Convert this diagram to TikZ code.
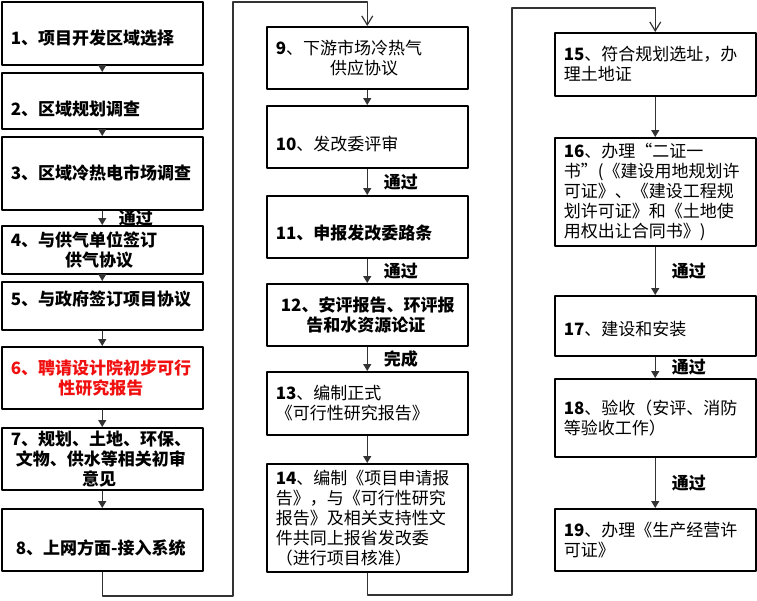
\documentclass[tikz,border=0pt]{standalone}
\usepackage{fontspec}
\usepackage{tikz}
\usetikzlibrary{arrows.meta,positioning,calc}
\newfontfamily\cjk{Noto Sans CJK SC}
\definecolor{linegray}{HTML}{333333}
\definecolor{redtext}{HTML}{F01010}
% move a one-line label up or down inside its box
\newcommand{\boxshift}[2]{\raisebox{#1}[\height][\depth]{#2}}

\begin{document}
\begin{tikzpicture}[x=1pt,y=-1pt,line join=round,
    box/.style={draw=black,line width=1.5pt,rectangle,anchor=north west,minimum width=201pt,
      inner xsep=9pt,inner ysep=1pt,text width=183pt,align=left,font=\cjk\fontsize{17}{20}\selectfont},
    boldbox/.style={box,font=\cjk\bfseries\fontsize{17}{20}\selectfont},
    arr/.style={draw=linegray,line width=1.3pt,-{Triangle[length=7pt,width=8pt]}},
    back/.style={draw=linegray,line width=1.3pt,-{Straight Barb[length=9pt,width=11pt,line width=1.2pt]}},
    pass/.style={midway,right=15pt,inner sep=1pt,font=\cjk\bfseries\fontsize{17}{20}\selectfont}]
  \useasboundingbox (0,0) rectangle (757,600);

  % first column
  \node[boldbox,minimum height=63pt] (b1) at (1,1) {\boxshift{-5pt}{1、项目开发区域选择}};
  \node[boldbox,minimum height=56pt] (b2) at (1,72) {\boxshift{-8pt}{2、区域规划调查}};
  \node[boldbox,minimum height=73pt] (b3) at (1,136) {3、区域冷热电市场调查};
  \node[boldbox,minimum height=48pt] (b4) at (1,225) {4、与供气单位签订\\\hspace*{3.2em}供气协议};
  \node[boldbox,minimum height=48pt] (b5) at (1,281) {\boxshift{7pt}{5、与政府签订项目协议}};
  \node[boldbox,minimum height=62pt,text=redtext] (b6) at (1,346) {6、聘请设计院初步可行\\\hspace*{2.8em}性研究报告};
  \node[boldbox,minimum height=62pt] (b7) at (1,427) {7、规划、土地、环保、\\\hspace*{0.3em}文物、供水等相关初审\\\hspace*{4.2em}意见};
  \node[boldbox,minimum height=62pt] (b8) at (1,508) {\boxshift{-8pt}{\hspace*{0.3em}8、上网方面-接入系统}};

  % second column
  \node[box,minimum height=62pt] (b9) at (266,26) {{\bfseries 9}、下游市场冷热气\\\hspace*{3.2em}供应协议};
  \node[box,minimum height=62pt] (b10) at (266,105) {\boxshift{-7pt}{{\bfseries 10}、发改委评审}};
  \node[boldbox,minimum height=62pt] (b11) at (266,195) {\boxshift{-6pt}{11、申报发改委路条}};
  \node[boldbox,minimum height=62pt] (b12) at (266,283) {\hspace*{0.3em}12、安评报告、环评报\\\hspace*{1.8em}告和水资源论证};
  \node[box,minimum height=63pt] (b13) at (266,371) {{\bfseries 13}、编制正式\\《可行性研究报告》};
  \node[box,minimum height=108pt] (b14) at (266,463) {{\bfseries 14}、编制《项目申请报\\告》，与《可行性研究\\报告》及相关支持性文\\件共同上报省发改委\\（进行项目核准）};

  % third column
  \node[box,minimum height=63pt] (b15) at (554,32) {{\bfseries 15}、符合规划选址，办\\理土地证};
  \node[box,minimum height=108pt] (b16) at (554,137) {{\bfseries 16}、办理“二证一\\书”(《建设用地规划许\\可证》、《建设工程规\\划许可证》和《土地使\\用权出让合同书》)};
  \node[box,minimum height=60pt] (b17) at (554,295) {\boxshift{-3pt}{{\bfseries 17}、建设和安装}};
  \node[box,minimum height=78pt] (b18) at (554,378) {{\bfseries 18}、验收（安评、消防\\等验收工作）};
  \node[box,minimum height=62pt] (b19) at (554,508) {{\bfseries 19}、办理《生产经营许\\可证》};

  % arrows
  \draw[arr] (b1) -- (b2);
  \draw[arr] (b2) -- (b3);
  \draw[arr] (b3) -- (b4) node[pass] (p1) {通过};
  \draw[arr] (b4) -- (b5);
  \draw[arr] (b5) -- (b6);
  \draw[arr] (b6) -- (b7);
  \draw[arr] (b7) -- (b8);

  \draw[arr] (b9) -- (b10);
  \draw[arr] (b10) -- (b11) node[pass] (p2) {通过};
  \draw[arr] (b11) -- (b12) node[pass] (p3) {通过};
  \draw[arr] (b12) -- (b13) node[pass] (p4) {完成};
  \draw[arr] (b13) -- (b14);

  \draw[arr] (b15) -- (b16);
  \draw[arr] (b16) -- (b17) node[pass] (p5) {通过};
  \draw[arr] (b17) -- (b18) node[pass] (p6) {通过};
  \draw[arr] (b18) -- (b19) node[pass] (p7) {通过};

  % column links
  \coordinate (r1) at (233,596);
  \coordinate (r2) at (b9.north |- 0,2);
  \draw[back] (b8.south) |- (r1) |- (r2) -- (b9.north);
  \coordinate (s1) at (512,595);
  \coordinate (s2) at (b15.north |- 0,8);
  \draw[back] (b14.south) |- (s1) |- (s2) -- (b15.north);
\end{tikzpicture}
\end{document}
